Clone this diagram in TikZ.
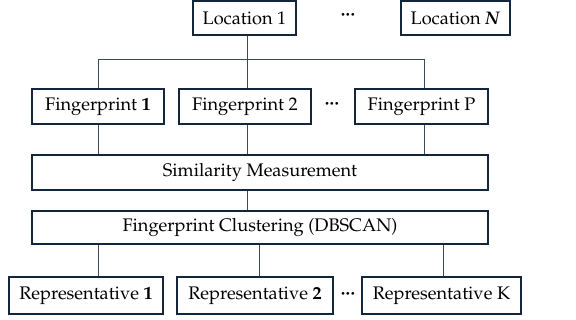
\documentclass[tikz,border=0pt]{standalone}
\usepackage[T1]{fontenc}
\usepackage{mathpazo}
\definecolor{boxline}{HTML}{13263C}
\definecolor{wire}{HTML}{3A4A5E}
\tikzset{
  x=1pt, y=-1pt,
  stage/.style={draw=boxline, line width=1.6pt, fill=white, inner sep=0pt,
    font=\fontsize{18.2}{21}\selectfont, text=black},
  link/.style={draw=wire, line width=0.9pt},
  gap/.style={inner sep=0pt, font=\fontsize{18.2}{21}\selectfont\bfseries}
}
\newcommand{\boxat}[6]{% name, x1, y1, x2, y2, text
  \node[stage, minimum width={#4-#2}, minimum height={#5-#3}]
    (#1) at ({(#2+#4)/2},{(#3+#5)/2}) {#6};}
\newcommand{\threedots}{\textperiodcentered\kern0.3pt\textperiodcentered\kern0.3pt\textperiodcentered}
\begin{document}
\begin{tikzpicture}
\useasboundingbox (0,0) rectangle (576,320);
% connectors first, boxes drawn over them
\coordinate (busL) at (98,59);
\coordinate (busM) at (247,59);
\coordinate (busR) at (424,59);
\coordinate (top) at (247,35);
\draw[link] (busL) -- (busR);
\draw[link] (top) -- (busM);
\coordinate (f1b) at (98,155);
\coordinate (f2b) at (247,155);
\coordinate (fpb) at (424,155);
\draw[link] (busL) -- (f1b);
\draw[link] (busM) -- (f2b);
\draw[link] (busR) -- (fpb);
\coordinate (s1) at (247,190);
\coordinate (s2) at (247,211);
\draw[link] (s1) -- (s2);
\coordinate (c1) at (98,244);
\coordinate (c2) at (259,244);
\coordinate (c3) at (443,244);
\coordinate (r1) at (98,277);
\coordinate (r2) at (259,277);
\coordinate (r3) at (443,277);
\draw[link] (c1) -- (r1);
\draw[link] (c2) -- (r2);
\draw[link] (c3) -- (r3);
% boxes
\boxat{loc1}{193}{1}{296}{35}{Location 1}
\boxat{locN}{401}{1}{510}{35}{Location \textbf{\textit{N}}}
\node[gap] (dotsA) at (348,16) {\threedots};
\boxat{fp1}{32}{89}{164}{124}{Fingerprint \textbf{1}}
\boxat{fp2}{179}{89}{311}{124}{Fingerprint 2}
\node[gap] (dotsB) at (332,105) {\threedots};
\boxat{fpP}{355}{89}{488}{124}{Fingerprint P}
\boxat{sim}{32}{155}{488}{190}{Similarity Measurement}
\boxat{clu}{32}{211}{488}{244}{Fingerprint Clustering (DBSCAN)}
\boxat{rep1}{9}{277}{163}{314}{Representative \textbf{1}}
\boxat{rep2}{177}{277}{333}{314}{Representative \textbf{2}}
\node[gap] (dotsC) at (348,295) {\threedots};
\boxat{repK}{362}{277}{521}{314}{Representative K}
\end{tikzpicture}
\end{document}
